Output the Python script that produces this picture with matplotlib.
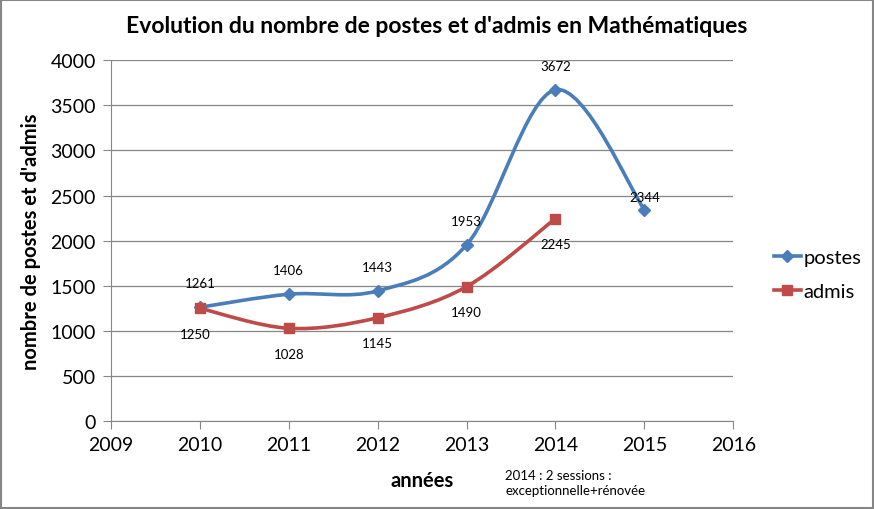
import numpy as np
import matplotlib
matplotlib.use("Agg")
import matplotlib.pyplot as plt
from matplotlib.path import Path
from matplotlib.patches import PathPatch, Rectangle
from matplotlib.lines import Line2D

years_postes = [2010, 2011, 2012, 2013, 2014, 2015]
postes = [1261, 1406, 1443, 1953, 3672, 2344]
years_admis = [2010, 2011, 2012, 2013, 2014]
admis = [1250, 1028, 1145, 1490, 2245]
xticks = [2009, 2010, 2011, 2012, 2013, 2014, 2015, 2016]
yticks = [0, 500, 1000, 1500, 2000, 2500, 3000, 3500, 4000]

plt.rcParams['font.family'] = ['Lato', 'DejaVu Sans']

fig = plt.figure(figsize=(8.74, 5.10), dpi=100)
ax = fig.add_axes([0.127, 0.1725, 0.712, 0.7075])

blue = '#4a7ebb'
red = '#be4b48'


def smooth_path(xs, ys):
    xs = np.asarray(xs, float); ys = np.asarray(ys, float)
    n = len(xs)
    verts = [(xs[0], ys[0])]
    codes = [Path.MOVETO]
    for i in range(n - 1):
        p0 = (xs[i - 1], ys[i - 1]) if i > 0 else (xs[i], ys[i])
        p1 = (xs[i], ys[i]); p2 = (xs[i + 1], ys[i + 1])
        p3 = (xs[i + 2], ys[i + 2]) if i + 2 < n else p2
        c1 = (p1[0] + (p2[0] - p0[0]) / 6, p1[1] + (p2[1] - p0[1]) / 6)
        c2 = (p2[0] - (p3[0] - p1[0]) / 6, p2[1] - (p3[1] - p1[1]) / 6)
        verts += [c1, c2, p2]
        codes += [Path.CURVE4] * 3
    return Path(verts, codes)

ax.add_patch(PathPatch(smooth_path(years_postes, postes), facecolor='none', edgecolor=blue, lw=2.6, zorder=3))
ax.add_patch(PathPatch(smooth_path(years_admis, admis), facecolor='none', edgecolor=red, lw=2.6, zorder=3))
ax.plot(years_postes, postes, ls='none', marker='D', ms=6, color=blue, zorder=4)
ax.plot(years_admis, admis, ls='none', marker='s', ms=7.5, color=red, zorder=4)

for x, y in zip(years_postes, postes):
    dy = 13 if x != 2015 else 5
    ax.annotate(str(y), (x, y), xytext=(0, dy), textcoords='offset points', ha='center', va='bottom', fontsize=9.5)
for x, y in zip(years_admis, admis):
    dx = -3 if x == 2010 else 0
    ax.annotate(str(y), (x, y), xytext=(dx, -14), textcoords='offset points', ha='center', va='top', fontsize=9.5)

ax.set_xlim(2009, 2016)
ax.set_ylim(0, 4000)
ax.set_xticks(xticks)
ax.set_yticks(yticks)
ax.tick_params(labelsize=14, direction='out', length=6, color='#868686', pad=5)
ax.grid(axis='y', color='#868686', lw=0.9)
ax.set_axisbelow(True)
for s in ['top', 'right']:
    ax.spines[s].set_visible(False)
for s in ['left', 'bottom']:
    ax.spines[s].set_color('#868686')

ax.set_xlabel('années', fontsize=14.5, fontweight='bold')
ax.xaxis.set_label_coords(0.5, -0.135)
ax.set_ylabel("nombre de postes et d'admis", fontsize=14.5, fontweight='bold')
ax.yaxis.set_label_coords(-0.112, 0.5)
fig.text(0.5, 0.948, "Evolution du nombre de postes et d'admis en Mathématiques", ha='center', va='center', fontsize=16.5, fontweight='bold')
fig.text(0.578, 0.052, "2014 : 2 sessions :\nexceptionnelle+rénovée", ha='left', va='center', fontsize=9.5, linespacing=1.35)

handles = [Line2D([], [], color=blue, lw=2.6, marker='D', ms=6),
           Line2D([], [], color=red, lw=2.6, marker='s', ms=7.5)]
fig.legend(handles, ['postes', 'admis'], loc='center left', bbox_to_anchor=(0.886, 0.46), frameon=False,
           fontsize=14.5, handlelength=1.3, handletextpad=0.15, labelspacing=0.85, borderpad=0, borderaxespad=0)

fig.patches.append(Rectangle((0.001, 0.001), 0.998, 0.998, transform=fig.transFigure, fill=False, edgecolor='#868686', lw=1.5))

fig.savefig('out.png', dpi=100)
